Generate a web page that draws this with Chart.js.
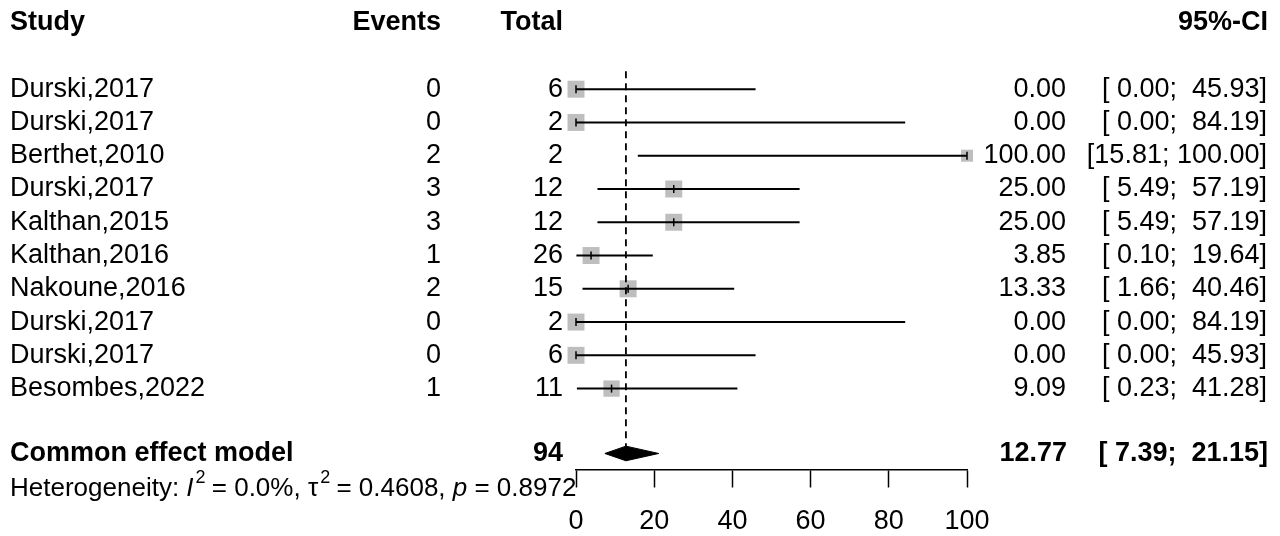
<!DOCTYPE html>
<html>
<head>
<meta charset="utf-8">
<script src="https://cdn.jsdelivr.net/npm/chart.js@4"></script>
<style>
  html, body { margin: 0; padding: 0; background: #fff; }
  #wrap { width: 1280px; height: 536px; position: relative; }
</style>
</head>
<body>
<div id="wrap"><canvas id="forest"></canvas></div>
<script>
// データ
const studies = ['Durski,2017', 'Durski,2017', 'Berthet,2010', 'Durski,2017', 'Kalthan,2015',
                 'Kalthan,2016', 'Nakoune,2016', 'Durski,2017', 'Durski,2017', 'Besombes,2022'];
const events = [0, 0, 2, 3, 3, 1, 2, 0, 0, 1];
const totals = [6, 2, 2, 12, 12, 26, 15, 2, 6, 11];
const estimates = [0.00, 0.00, 100.00, 25.00, 25.00, 3.85, 13.33, 0.00, 0.00, 9.09];
const lowers = [0.00, 0.00, 15.81, 5.49, 5.49, 0.10, 1.66, 0.00, 0.00, 0.23];
const uppers = [45.93, 84.19, 100.00, 57.19, 57.19, 19.64, 40.46, 84.19, 45.93, 41.28];
const pooled = { label: 'Common effect model', total: 94, est: 12.77, lower: 7.39, upper: 21.15 };
const xTicks = [0, 20, 40, 60, 80, 100];

// 行の位置（y軸の値）
const rows = studies.map((s, i) => i + 1);
const headerRow = -1;
const modelRow = 11.95;
const hetRow = 13;
const axisRow = 12.45;

// スタイル
const squareRadius = [12, 12, 8.5, 12, 12, 12, 12, 12, 12, 11.5];
const FONT = '"Liberation Sans", Arial, sans-serif';
const SIZE = 27;

function fmtCI(lo, hi) {
  return '[' + lo.toFixed(2).padStart(5, ' ') + '; ' + hi.toFixed(2).padStart(6, ' ') + ']';
}

// 信頼区間の線
const ciSets = rows.map((r, i) => ({
  type: 'line',
  data: [{ x: lowers[i], y: r }, { x: uppers[i], y: r }],
  borderColor: '#000',
  borderWidth: 2,
  pointRadius: 0,
  showLine: true,
  clip: false,
  order: 1
}));

// テキスト描画プラグイン
const textPlugin = {
  id: 'forestText',
  afterDraw(chart) {
    const { ctx } = chart;
    const y = chart.scales.y;
    ctx.save();
    ctx.fillStyle = '#000';
    ctx.textBaseline = 'middle';

    const put = (txt, x, r, align, bold) => {
      ctx.font = (bold ? 'bold ' : '') + SIZE + 'px ' + FONT;
      ctx.textAlign = align;
      ctx.fillText(txt, x, y.getPixelForValue(r));
    };

    // ヘッダー
    put('Study', 10, headerRow, 'left', true);
    put('Events', 441, headerRow, 'right', true);
    put('Total', 563, headerRow, 'right', true);
    put('95%-CI', 1268, headerRow, 'right', true);

    // 各研究
    rows.forEach((r, i) => {
      put(studies[i], 10, r, 'left', false);
      put(String(events[i]), 441, r, 'right', false);
      put(String(totals[i]), 563, r, 'right', false);
      put(estimates[i].toFixed(2), 1066, r, 'right', false);
      put(fmtCI(lowers[i], uppers[i]), 1267, r, 'right', false);
    });

    // 統合結果
    put(pooled.label, 10, modelRow, 'left', true);
    put(String(pooled.total), 563, modelRow, 'right', true);
    put(pooled.est.toFixed(2), 1067, modelRow, 'right', true);
    put(fmtCI(pooled.lower, pooled.upper), 1268, modelRow, 'right', true);

    // 異質性
    const hy = y.getPixelForValue(hetRow);
    const hs = 26;
    const parts = [
      { t: 'Heterogeneity: ', f: '' },
      { t: 'I', f: 'italic ' },
      { t: '2', f: '', sup: true },
      { t: ' = 0.0%, \u03c4', f: '' },
      { t: '2', f: '', sup: true },
      { t: ' = 0.4608, ', f: '' },
      { t: 'p', f: 'italic ' },
      { t: ' = 0.8972', f: '' }
    ];
    let hx = 10;
    ctx.textAlign = 'left';
    parts.forEach(p => {
      const sz = p.sup ? 18 : hs;
      ctx.font = p.f + sz + 'px ' + FONT;
      ctx.fillText(p.t, hx + (p.sup ? 2 : 0), p.sup ? hy - 10 : hy);
      hx += ctx.measureText(p.t).width + (p.sup ? 1 : 0);
    });
    ctx.restore();
  }
};

new Chart(document.getElementById('forest'), {
  type: 'scatter',
  data: {
    datasets: [
      // 推定値の目印
      {
        data: rows.map((r, i) => ({ x: estimates[i], y: r })),
        pointStyle: 'line',
        rotation: 90,
        pointRadius: 4,
        borderColor: '#000',
        borderWidth: 1.5,
        clip: false,
        order: 0
      },
      ...ciSets,
      // 基準線（破線）
      {
        type: 'line',
        data: [{ x: pooled.est, y: 0.46 }, { x: pooled.est, y: 11.75 }],
        borderColor: '#000',
        borderWidth: 1.8,
        borderDash: [7, 5],
        pointRadius: 0,
        showLine: true,
        order: 2
      },
      // ひし形
      {
        type: 'line',
        data: [
          { x: pooled.lower, y: modelRow },
          { x: pooled.est, y: modelRow - 0.22 },
          { x: pooled.upper, y: modelRow },
          { x: pooled.est, y: modelRow + 0.22 },
          { x: pooled.lower, y: modelRow }
        ],
        borderColor: '#000',
        borderWidth: 1,
        backgroundColor: '#000',
        fill: 'shape',
        pointRadius: 0,
        showLine: true,
        tension: 0,
        order: 1
      },
      // 四角（重み）
      {
        data: rows.map((r, i) => ({ x: estimates[i], y: r })),
        pointStyle: 'rect',
        pointRadius: squareRadius,
        backgroundColor: '#bebebe',
        borderColor: '#bebebe',
        borderWidth: 0,
        clip: false,
        order: 3
      }
    ]
  },
  options: {
    responsive: true,
    maintainAspectRatio: false,
    animation: false,
    events: [],
    layout: { padding: { left: 576, right: 313, top: 0, bottom: 0 } },
    plugins: { legend: { display: false }, tooltip: { enabled: false } },
    scales: {
      x: {
        type: 'linear',
        min: 0,
        max: 100,
        position: { y: axisRow },
        afterBuildTicks: axis => { axis.ticks = xTicks.map(v => ({ value: v })); },
        ticks: {
          autoSkip: false,
          maxRotation: 0,
          color: '#000',
          padding: 18,
          font: { family: FONT, size: SIZE }
        },
        grid: {
          drawOnChartArea: false,
          drawTicks: true,
          tickLength: 17,
          tickColor: '#000',
          tickWidth: 1.5
        },
        border: { display: true, color: '#000', width: 1.5 }
      },
      y: {
        type: 'linear',
        display: false,
        reverse: true,
        min: -1.32,
        max: 14.07
      }
    }
  },
  plugins: [textPlugin]
});
</script>
</body>
</html>
